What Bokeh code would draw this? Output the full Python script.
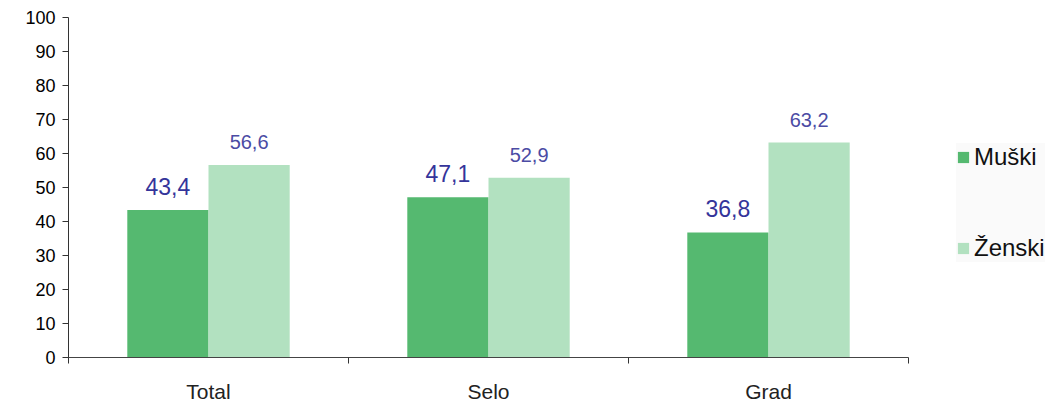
from bokeh.plotting import figure
from bokeh.models import (ColumnDataSource, FixedTicker, LabelSet, Legend, LegendItem, Range1d)
from bokeh.core.properties import value
from bokeh.embed import file_html
from bokeh.resources import INLINE

categories = ["Total", "Selo", "Grad"]
muski = [43.4, 47.1, 36.8]
zenski = [56.6, 52.9, 63.2]
y_ticks = list(range(0, 101, 10))

BAR_W = 0.29
FONT = "Liberation Sans"
DARK = "#55b970"
LIGHT = "#b2e1c0"

# layout: axis area 840 px wide, frame extended to the right edge for the legend
AXIS_PX = 840
FRAME_PX = 985
n = len(categories)

def fmt(v):
    return f"{v:.1f}".replace(".", ",")

centers = [i + 0.5 for i in range(n)]
src_m = ColumnDataSource(dict(x=[c - BAR_W / 2 for c in centers], y=muski,
                              lab=[fmt(v) for v in muski]))
src_z = ColumnDataSource(dict(x=[c + BAR_W / 2 for c in centers], y=zenski,
                              lab=[fmt(v) for v in zenski]))

p = figure(width=1053, height=408, output_backend="svg", toolbar_location=None,
           x_range=Range1d(0, n * FRAME_PX / AXIS_PX), y_range=Range1d(0, 100),
           min_border_left=68, min_border_right=0, min_border_top=17, min_border_bottom=51)
p.frame_width = FRAME_PX
p.frame_height = 340
p.outline_line_color = None
p.grid.grid_line_color = None
p.background_fill_color = "white"
p.border_fill_color = "white"

r_m = p.vbar(x="x", top="y", width=BAR_W, source=src_m, fill_color=DARK, line_color=None)
r_z = p.vbar(x="x", top="y", width=BAR_W, source=src_z, fill_color=LIGHT, line_color=None)

p.add_layout(LabelSet(x="x", y="y", text="lab", source=src_m, text_align="center",
                      text_baseline="alphabetic", y_offset=15, text_color="#34349a",
                      text_font=value(FONT), text_font_size="23px"))
p.add_layout(LabelSet(x="x", y="y", text="lab", source=src_z, text_align="center",
                      text_baseline="alphabetic", y_offset=16, text_color="#4b4ba4",
                      text_font=value(FONT), text_font_size="20px"))

# y axis
p.yaxis.ticker = FixedTicker(ticks=y_ticks, minor_ticks=[])
p.yaxis.major_tick_out = 6
p.yaxis.major_tick_in = 0
p.yaxis.axis_line_color = "#333333"
p.yaxis.major_tick_line_color = "#333333"
p.yaxis.major_label_text_font = FONT
p.yaxis.major_label_text_font_size = "18px"
p.yaxis.major_label_text_color = "#000000"
p.yaxis.major_label_standoff = 7

# x axis
p.xaxis.bounds = (0, n)
p.xaxis.ticker = FixedTicker(ticks=centers, minor_ticks=[float(i) for i in range(n + 1)])
p.xaxis.major_label_overrides = {c: cat for c, cat in zip(centers, categories)}
p.xaxis.major_tick_line_color = None
p.xaxis.major_tick_out = 0
p.xaxis.major_tick_in = 0
p.xaxis.minor_tick_out = 6
p.xaxis.minor_tick_in = 0
p.xaxis.minor_tick_line_color = "#333333"
p.xaxis.axis_line_color = "#444444"
p.xaxis.major_label_text_font = FONT
p.xaxis.major_label_text_font_size = "21px"
p.xaxis.major_label_text_color = "#222222"
p.xaxis.major_label_standoff = 16

legend = Legend(items=[LegendItem(label="Muški", renderers=[r_m]),
                       LegendItem(label="Ženski", renderers=[r_z])],
                location=(888, 95), orientation="vertical",
                background_fill_color="#fafafa", background_fill_alpha=1.0,
                border_line_color=None, glyph_width=14, glyph_height=14,
                label_text_font=FONT, label_text_font_size="24px",
                label_text_color="#111111", label_height=28, spacing=63, padding=13,
                label_standoff=4, margin=0)
p.add_layout(legend)

open("out.html", "w").write(file_html(p, INLINE))
